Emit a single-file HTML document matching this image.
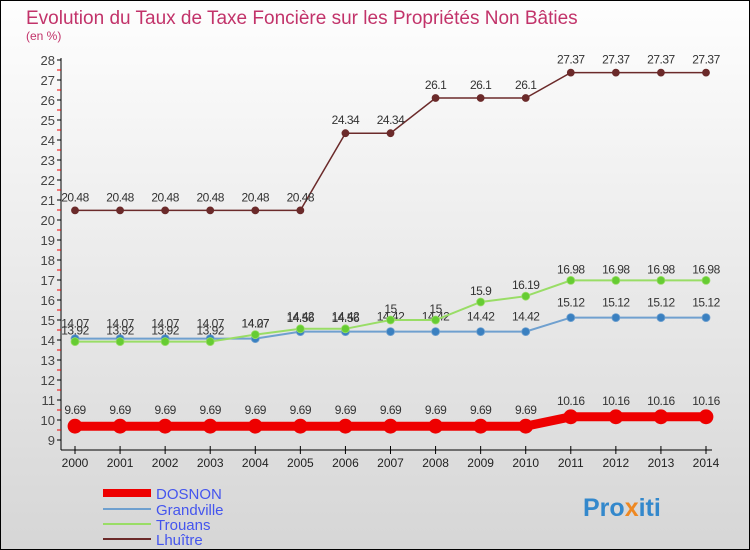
<!DOCTYPE html>
<html><head><meta charset="utf-8"><style>
body{margin:0;width:750px;height:550px;overflow:hidden;font-family:"Liberation Sans",sans-serif}
#wrap{position:absolute;left:0;top:0;width:748px;height:548px;border:1px solid #000;background:linear-gradient(#fefefe,#d6d6d6)}
</style></head><body>
<div id="wrap">
<svg id="chart" width="750" height="550" style="position:absolute;left:-1px;top:-1px">
<text x="26" y="24" font-size="19" fill="#c2336a">Evolution du Taux de Taxe Foncière sur les Propriétés Non Bâties</text>
<text x="26" y="40" font-size="12" fill="#c2336a">(en %)</text>
<g id="axes"></g><g id="series"></g>
<g>
<line x1="103" y1="493" x2="151" y2="493" stroke="#ee0000" stroke-width="8"/><text x="156" y="499" font-size="15" fill="#4455ee">DOSNON</text>
<line x1="103" y1="509" x2="151" y2="509" stroke="#6fa0cf" stroke-width="2"/><text x="156" y="515" font-size="15" fill="#4455ee">Grandville</text>
<line x1="103" y1="524" x2="151" y2="524" stroke="#99dd66" stroke-width="2"/><text x="156" y="530" font-size="15" fill="#4455ee">Trouans</text>
<line x1="103" y1="539" x2="151" y2="539" stroke="#6b2a2a" stroke-width="2"/><text x="156" y="545" font-size="15" fill="#4455ee">Lhuître</text>
</g>
<text x="583" y="516" font-size="25" font-weight="bold" fill="#3388cc">Pro<tspan fill="#ee8822">x</tspan>iti</text>
</svg>
</div>
<script>
const years=[2000,2001,2002,2003,2004,2005,2006,2007,2008,2009,2010,2011,2012,2013,2014];
const yTicks=[9,10,11,12,13,14,15,16,17,18,19,20,21,22,23,24,25,26,27,28];
const dosnon=[9.69,9.69,9.69,9.69,9.69,9.69,9.69,9.69,9.69,9.69,9.69,10.16,10.16,10.16,10.16];
const grandville=[14.07,14.07,14.07,14.07,14.07,14.42,14.42,14.42,14.42,14.42,14.42,15.12,15.12,15.12,15.12];
const trouans=[13.92,13.92,13.92,13.92,14.27,14.56,14.56,15,15,15.9,16.19,16.98,16.98,16.98,16.98];
const lhuitre=[20.48,20.48,20.48,20.48,20.48,20.48,24.34,24.34,26.1,26.1,26.1,27.37,27.37,27.37,27.37];
const NS='http://www.w3.org/2000/svg';
const xS=i=>75+i*(706-75)/(years.length-1);
const yS=v=>440-(v-9)*20;
function mk(t,a,p){const e=document.createElementNS(NS,t);for(const k in a)e.setAttribute(k,a[k]);p.appendChild(e);return e;}
const ax=document.getElementById('axes');
mk('line',{x1:61,y1:58,x2:61,y2:450,stroke:'#000'},ax);
mk('line',{x1:61,y1:450,x2:712,y2:450,stroke:'#000'},ax);
yTicks.forEach(v=>{const y=yS(v);
 mk('line',{x1:57,y1:y,x2:61,y2:y,stroke:'#000'},ax);
 if(v<28)mk('line',{x1:57,y1:y-10,x2:61,y2:y-10,stroke:'#e00'},ax);
 const t=mk('text',{x:55,y:y+5,'font-size':13,fill:'#444','text-anchor':'end'},ax);t.textContent=v;
 
 });
years.forEach((yr,i)=>{const x=xS(i);
 mk('line',{x1:x,y1:446,x2:x,y2:454,stroke:'#000'},ax);
 const t=mk('text',{x:x,y:467,'font-size':12,fill:'#222','text-anchor':'middle'},ax);t.textContent=yr;
 
 });
const sg=document.getElementById('series');
function draw(name,data,color,w,r,dot,dy){
 const g=mk('g',{},sg);
 
 
 mk('polyline',{points:data.map((v,i)=>xS(i)+','+yS(v)).join(' '),fill:'none',stroke:color,'stroke-width':w},g);
 data.forEach((v,i)=>{const c=mk('circle',{cx:xS(i),cy:yS(v),r:r,fill:dot,stroke:color,'stroke-width':0.8},g);
  
  
  const t=mk('text',{x:xS(i),y:yS(v)+dy,'font-size':12,fill:'#333','text-anchor':'middle','letter-spacing':'-0.5'},g);t.textContent=v;
  
  });
}
draw('lhuitre',lhuitre,'#6b2a2a',1.5,3.5,'#6b2a2a',-9);
draw('grandville',grandville,'#6fa0cf',2,4,'#3a80c0',-11);
draw('trouans',trouans,'#99dd66',2,4,'#66cc33',-7);
draw('dosnon',dosnon,'#ee0000',9,7,'#ee0000',-12);
</script>
</body></html>
